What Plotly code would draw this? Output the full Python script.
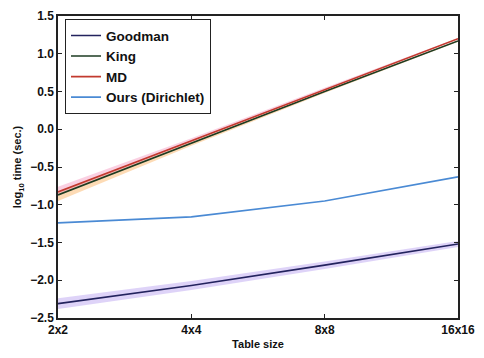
import plotly.graph_objects as go

# Table sizes on the x axis
sizes = ["2x2", "4x4", "8x8", "16x16"]
xpos = [0, 1, 2, 3]

# log10 run time (seconds) for each method
goodman = [-2.31, -2.07, -1.80, -1.52]
king = [-0.87, -0.18, 0.50, 1.17]
md = [-0.83, -0.15, 0.53, 1.20]
ours = [-1.24, -1.16, -0.95, -0.63]

# spread (shaded band) around the mean curves
goodman_lo = [-2.38, -2.13, -1.85, -1.56]
goodman_hi = [-2.24, -2.01, -1.75, -1.48]
king_lo = [-0.95, -0.22, 0.48, 1.16]
king_hi = [-0.84, -0.16, 0.51, 1.18]
md_lo = [-0.86, -0.17, 0.52, 1.19]
md_hi = [-0.76, -0.12, 0.55, 1.21]

y_ticks = [-2.5, -2.0, -1.5, -1.0, -0.5, 0.0, 0.5, 1.0, 1.5]

FONT = "Liberation Sans"

fig = go.Figure()


def band(lo, hi, color):
    fig.add_trace(go.Scatter(x=xpos, y=lo, mode="lines", line=dict(width=0),
                             showlegend=False, hoverinfo="skip"))
    fig.add_trace(go.Scatter(x=xpos, y=hi, mode="lines", line=dict(width=0),
                             fill="tonexty", fillcolor=color,
                             showlegend=False, hoverinfo="skip"))


band(goodman_lo, goodman_hi, "rgba(160,130,235,0.35)")
band(king_lo, king_hi, "rgba(250,175,90,0.45)")
band(md_lo, md_hi, "rgba(245,150,190,0.45)")

fig.add_trace(go.Scatter(x=xpos, y=goodman, mode="lines", name="Goodman",
                         line=dict(color="#23235e", width=1.6)))
fig.add_trace(go.Scatter(x=xpos, y=king, mode="lines", name="King",
                         line=dict(color="#1d3b22", width=1.6)))
fig.add_trace(go.Scatter(x=xpos, y=md, mode="lines", name="MD",
                         line=dict(color="#c23a2e", width=1.6)))
fig.add_trace(go.Scatter(x=xpos, y=ours, mode="lines", name="Ours (Dirichlet)",
                         line=dict(color="#4a8ad4", width=1.6)))

axis_common = dict(
    showgrid=False, zeroline=False, showline=True, linecolor="#222",
    linewidth=1.5, mirror="ticks", ticks="inside", ticklen=4,
    tickcolor="#222",
    tickfont=dict(family=FONT, size=12, color="#111", weight="bold"),
)

fig.update_xaxes(
    range=[0, 3], tickvals=xpos, ticktext=sizes,
    title=dict(text="Table size", standoff=4,
               font=dict(family=FONT, size=11, color="#111", weight="bold")),
    **axis_common,
)
fig.update_yaxes(
    range=[-2.5, 1.5], tickvals=y_ticks, tickformat=".1f",
    title=dict(text="log<sub>10</sub> time (sec.)", standoff=6,
               font=dict(family=FONT, size=11, color="#111", weight="bold")),
    **axis_common,
)

fig.update_layout(
    width=484, height=358,
    margin=dict(l=58, r=20, t=9, b=34),
    plot_bgcolor="white", paper_bgcolor="white",
    font=dict(family=FONT, color="#111"),
    legend=dict(
        x=0.017, y=0.99, xanchor="left", yanchor="top",
        bgcolor="white", bordercolor="#222", borderwidth=1.2,
        font=dict(family=FONT, size=13.5, color="#111", weight="bold"),
        traceorder="normal", tracegroupgap=0, itemwidth=30,
    ),
)

fig.write_html("out.html")
